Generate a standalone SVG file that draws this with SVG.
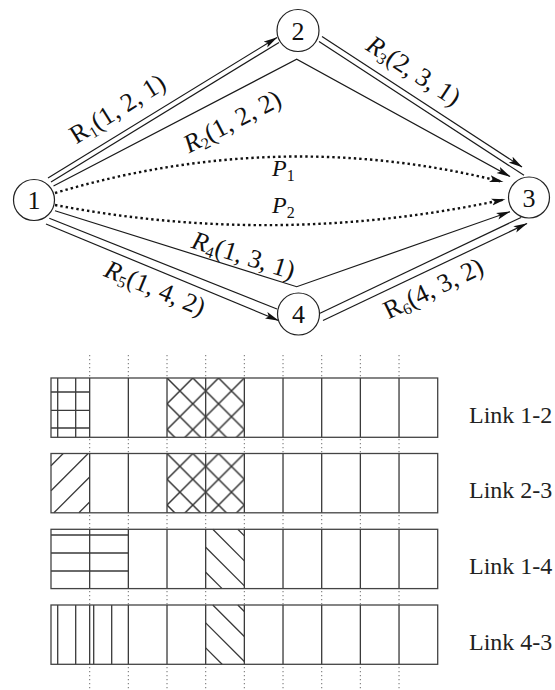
<svg xmlns="http://www.w3.org/2000/svg" width="555" height="690" viewBox="0 0 555 690">
<style>
.edge{fill:none;stroke:#1a1a1a;stroke-width:1.2}
.dot{fill:none;stroke:#111;stroke-width:2.4;stroke-dasharray:2.4 3}
.node circle{fill:#fff;stroke:#222;stroke-width:1.2}
.nl{font-family:"Liberation Serif","Times New Roman",serif;font-size:26px;text-anchor:middle;fill:#111}
.el{font-family:"Liberation Serif","Times New Roman",serif;font-size:26px;text-anchor:middle;fill:#111}
.pl{font-family:"Liberation Serif","Times New Roman",serif;font-size:24px;fill:#111}
.sub{font-size:16px}
.grid{stroke:#7a7a7a;stroke-width:1.1;stroke-dasharray:1.2 2.8}
.bg{fill:#fff;stroke:none}
.outline{fill:none;stroke:#444;stroke-width:1.3}
.div{stroke:#3a3a3a;stroke-width:1.3;fill:none}
.hat{stroke:#3a3a3a;stroke-width:1.3;fill:none}
.lk{font-family:"Liberation Serif","Times New Roman",serif;font-size:24px;fill:#222}
</style>
<defs>
<marker id="arr" viewBox="0 0 14 8" refX="13.5" refY="4" markerWidth="14" markerHeight="8" markerUnits="userSpaceOnUse" orient="auto">
<path d="M0,0.5 L14,4 L0,7.5 L3,4 Z" fill="#111"/>
</marker>
<pattern id="cross" patternUnits="userSpaceOnUse" x="116.01" y="0" width="25.78" height="25.78">
<path d="M0,0 L25.78,25.78 M25.78,0 L0,25.78" stroke="#333" stroke-width="1.5"/>
</pattern>
</defs>

<g id="connectors">
<path class="edge" d="M48,178 L277,37.5" marker-end="url(#arr)"/>
<path class="edge" d="M51,182 L279,42.5"/>
<path class="edge" d="M53.5,186 L296.7,59.3 L510,176.5" marker-end="url(#arr)"/>
<path class="edge" d="M322,36.5 L522,167" marker-end="url(#arr)"/>
<path class="edge" d="M319,41.5 L524,175.3"/>
<path class="dot" d="M55,193 Q280,126 503,182" marker-end="url(#arr)"/>
<path class="dot" d="M55,205 Q280,248 505,199.3" marker-end="url(#arr)"/>
<path class="edge" d="M55,210.7 L296.7,286.7 L510,211.7" marker-end="url(#arr)"/>
<path class="edge" d="M49.3,218.3 L277,309"/>
<path class="edge" d="M46,224 L278.5,320.5" marker-end="url(#arr)"/>
<path class="edge" d="M320,313.3 L521,217.5"/>
<path class="edge" d="M323,320.5 L527,223.5" marker-end="url(#arr)"/>
</g>

<g id="edge-labels">
<text class="el" transform="translate(122,116) rotate(-32)">R<tspan class="sub" dy="4">1</tspan><tspan dy="-4">(1, 2, 1)</tspan></text>
<text class="el" transform="translate(236,129) rotate(-27.5)"><tspan font-style="italic">R</tspan><tspan class="sub" dy="4">2</tspan><tspan dy="-4">(1, 2, 2)</tspan></text>
<text class="el" transform="translate(409,78) rotate(33)"><tspan font-style="italic">R</tspan><tspan class="sub" dy="4">3</tspan><tspan dy="-4">(2, 3, 1)</tspan></text>
<text class="el" transform="translate(241,263.5) rotate(17.5)"><tspan font-style="italic">R</tspan><tspan class="sub" dy="4">4</tspan><tspan dy="-4">(1, 3, 1)</tspan></text>
<text class="el" transform="translate(152,296) rotate(22.3)"><tspan font-style="italic">R</tspan><tspan class="sub" dy="4">5</tspan><tspan dy="-4">(1, 4, 2)</tspan></text>
<text class="el" transform="translate(437,296) rotate(-26)">R<tspan class="sub" dy="4">6</tspan><tspan dy="-4">(4, 3, 2)</tspan></text>
<text class="pl" x="272" y="176"><tspan font-style="italic">P</tspan><tspan class="sub" dy="5">1</tspan></text>
<text class="pl" x="272" y="213"><tspan font-style="italic">P</tspan><tspan class="sub" dy="5">2</tspan></text>
</g>

<g id="node1" class="node"><circle cx="34" cy="200" r="20.5"/><text class="nl" x="34" y="209">1</text></g>
<g id="node2" class="node"><circle cx="298" cy="30.5" r="21"/><text class="nl" x="298" y="39.5">2</text></g>
<g id="node3" class="node"><circle cx="529" cy="197.5" r="20.5"/><text class="nl" x="529" y="206.5">3</text></g>
<g id="node4" class="node"><circle cx="298.5" cy="314" r="21"/><text class="nl" x="298.5" y="323">4</text></g>

<g id="slot-grid">
<line class="grid" x1="89.67" y1="355" x2="89.67" y2="690"/>
<line class="grid" x1="128.34" y1="355" x2="128.34" y2="690"/>
<line class="grid" x1="167.01" y1="355" x2="167.01" y2="690"/>
<line class="grid" x1="205.68" y1="355" x2="205.68" y2="690"/>
<line class="grid" x1="244.35" y1="355" x2="244.35" y2="690"/>
<line class="grid" x1="283.02" y1="355" x2="283.02" y2="690"/>
<line class="grid" x1="321.69" y1="355" x2="321.69" y2="690"/>
<line class="grid" x1="360.36" y1="355" x2="360.36" y2="690"/>
<line class="grid" x1="399.03" y1="355" x2="399.03" y2="690"/>
</g>

<g id="link12" transform="translate(51,378)">
<rect class="bg" x="0" y="0" width="386.7" height="59.3"/>
<rect x="116" y="0" width="77.34" height="59.3" fill="url(#cross)"/>
<path class="hat" d="M6.7,0 V59.3 M24.7,0 V59.3 M0,14 H38.67 M0,32.3 H38.67 M0,50 H38.67"/>
<path class="div" d="M38.67,0 V59.3 M77.34,0 V59.3 M116.01,0 V59.3 M154.68,0 V59.3 M193.35,0 V59.3 M232.02,0 V59.3 M270.69,0 V59.3 M309.36,0 V59.3 M348.03,0 V59.3"/>
<rect class="outline" x="0" y="0" width="386.7" height="59.3"/>
</g>
<text class="lk" x="469" y="422.5">Link 1-2</text>

<g id="link23" transform="translate(51,453.5)">
<rect class="bg" x="0" y="0" width="386.7" height="59.3"/>
<rect x="116" y="0" width="77.34" height="59.3" fill="url(#cross)"/>
<path class="hat" d="M0,12.2 L12.2,0 M0,37.2 L37.2,0 M2.9,59.3 L38.67,23.5 M27.9,59.3 L38.67,48.5"/>
<path class="div" d="M38.67,0 V59.3 M77.34,0 V59.3 M116.01,0 V59.3 M154.68,0 V59.3 M193.35,0 V59.3 M232.02,0 V59.3 M270.69,0 V59.3 M309.36,0 V59.3 M348.03,0 V59.3"/>
<rect class="outline" x="0" y="0" width="386.7" height="59.3"/>
</g>
<text class="lk" x="469" y="498">Link 2-3</text>

<g id="link14" transform="translate(51,529.3)">
<rect class="bg" x="0" y="0" width="386.7" height="59.3"/>
<path class="hat" d="M0,5.7 H77.34 M0,23.7 H77.34 M0,41.7 H77.34"/>
<path class="hat" d="M186.8,0 L193.35,6.55 M161.8,0 L193.35,31.55 M154.68,17.9 L193.35,56.55 M154.68,42.9 L171.1,59.3"/>
<path class="div" d="M38.67,0 V59.3 M77.34,0 V59.3 M116.01,0 V59.3 M154.68,0 V59.3 M193.35,0 V59.3 M232.02,0 V59.3 M270.69,0 V59.3 M309.36,0 V59.3 M348.03,0 V59.3"/>
<rect class="outline" x="0" y="0" width="386.7" height="59.3"/>
</g>
<text class="lk" x="469" y="574">Link 1-4</text>

<g id="link43" transform="translate(51,605)">
<rect class="bg" x="0" y="0" width="386.7" height="59.3"/>
<path class="hat" d="M6.7,0 V59.3 M24.7,0 V59.3 M42.7,0 V59.3 M60.7,0 V59.3"/>
<path class="hat" d="M186.8,0 L193.35,6.55 M161.8,0 L193.35,31.55 M154.68,17.9 L193.35,56.55 M154.68,42.9 L171.1,59.3"/>
<path class="div" d="M38.67,0 V59.3 M77.34,0 V59.3 M116.01,0 V59.3 M154.68,0 V59.3 M193.35,0 V59.3 M232.02,0 V59.3 M270.69,0 V59.3 M309.36,0 V59.3 M348.03,0 V59.3"/>
<rect class="outline" x="0" y="0" width="386.7" height="59.3"/>
</g>
<text class="lk" x="469" y="649.7">Link 4-3</text>
</svg>
